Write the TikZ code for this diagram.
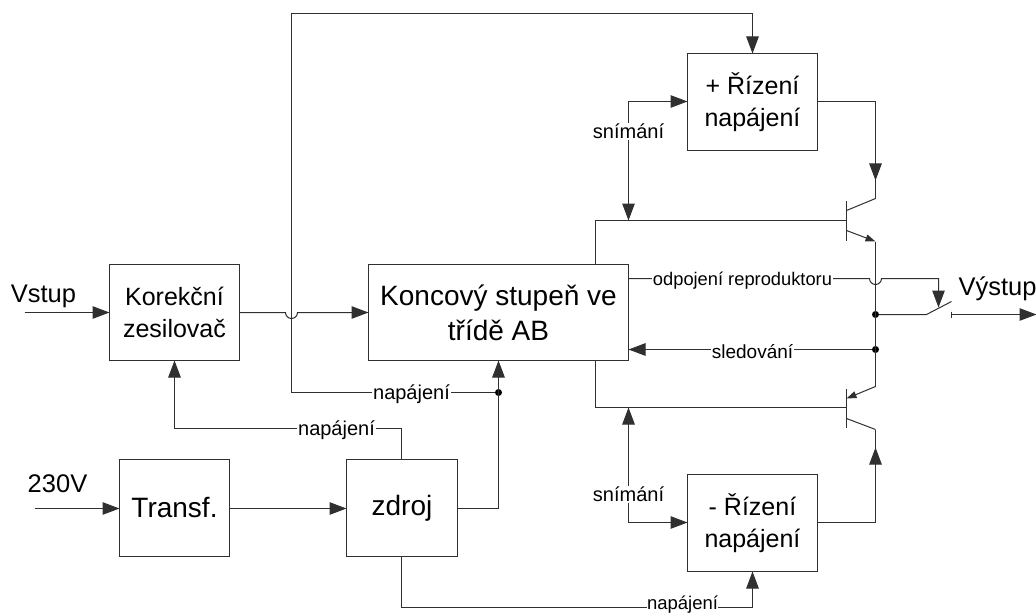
\documentclass[tikz,border=0pt]{standalone}
\usepackage{fontspec}
\setmainfont{Liberation Sans}
\usetikzlibrary{arrows.meta}
\definecolor{wire}{HTML}{303030}
\tikzset{
  x=1pt,y=-1pt,
  blockbox/.style={draw=wire,line width=1pt,fill=white,inner sep=0pt,outer sep=0pt,align=center,font=\fontsize{25}{32}\selectfont},
  tag/.style={fill=white,inner sep=1pt,yshift=-2pt,font=\fontsize{20}{24}\selectfont},
  title/.style={inner sep=0pt,font=\fontsize{25.5}{30}\selectfont},
  wireline/.style={draw=wire,line width=1pt},
  arrowline/.style={wireline,-{Triangle[length=17pt,width=12.5pt]}},
  smallarrow/.style={wireline,-{Triangle[length=10pt,width=7pt]}},
  joint/.style={circle,fill=black,inner sep=0pt,minimum size=7pt}
}
\begin{document}
\begin{tikzpicture}
\useasboundingbox (-0.5,-0.5) rectangle (1035.5,614.5);
% blocks
\node[blockbox,minimum width=130,minimum height=96] (kor) at (174,312) {Korekční\\zesilovač};
\node[blockbox,minimum width=260,minimum height=96,font=\fontsize{28}{35}\selectfont] (kon) at (498,312) {Koncový stupeň ve\\třídě AB};
\node[blockbox,minimum width=130,minimum height=97] (plus) at (752,101.5) {+ Řízení\\napájení};
\node[blockbox,minimum width=130,minimum height=97] (minus) at (752,522.5) {- Řízení\\napájení};
\node[blockbox,minimum width=110,minimum height=97,font=\fontsize{28}{34}\selectfont] (tr) at (174,507.5) {Transf.};
\node[blockbox,minimum width=111,minimum height=97,font=\fontsize{28}{34}\selectfont] (zd) at (401.5,507.5) {zdroj};
% free ends and bends
\coordinate (vin) at (24,312);
\coordinate (acin) at (34,508);
\coordinate (vout) at (1036,314);
\coordinate (outT) at (951,314);
\coordinate (swL) at (926,314);
\coordinate (swR) at (951,301);
\coordinate (rail) at (628,220);
\coordinate (railB) at (628,407);
\coordinate (bU) at (846,220);
\coordinate (bL) at (846,407);
\coordinate (cU) at (875,198);
\coordinate (eU) at (875,241);
\coordinate (eL) at (875,386);
\coordinate (cL) at (875,429);
\node[joint] (jn) at (498,392) {};
\node[joint] (js) at (875,314) {};
\node[joint] (jf) at (875,349) {};
% texts
\node[title] (tv) at (43,296) {Vstup};
\node[title] (ta) at (57,483) {230V};
\node[title] (to) at (997,288) {Výstup};
% simple arrows
\draw[arrowline] (vin) -- (kor.west);
\draw[arrowline] (acin) -- (tr.west |- acin);
\draw[arrowline] (tr.east |- acin) -- (zd.west |- acin);
% amp to output stage, hopping over the feed
\draw[arrowline] (kor.east) -- (285,312) arc[start angle=180,end angle=0,radius=6] -- (kon.west);
% top feed
\coordinate (fL) at (291,392);
\draw[arrowline] (jn) -- (fL) -- (291,13) -- (752,13) -- (plus.north);
\node[tag] at (411,392) {napájení};
% supply
\draw[arrowline] (zd.east |- acin) -- (498,508) -- (kon.south);
\draw[arrowline] (zd.north -| 401,0) -- (401,428) -- (174,428) -- (kor.south);
\node[tag] at (336,428) {napájení};
\draw[arrowline] (zd.south -| 401,0) -- (401,607) -- (752,607) -- (minus.south);
\node[tag,yshift=2pt,inner sep=0pt,font=\fontsize{18.5}{22}\selectfont] at (682,604.5) {napájení};
% rails
\draw[wireline] (kon.north -| 595,0) -- (595,220) -- (bU);
\draw[wireline] (kon.south -| 595,0) -- (595,407) -- (bL);
\draw[arrowline] (628,101) -- (plus.west |- 0,101);
\draw[arrowline] (628,101) -- (rail);
\node[tag] at (628,129) {snímání};
\draw[arrowline] (628,522) -- (minus.west |- 0,522);
\draw[arrowline] (628,522) -- (railB);
\node[tag] at (628,492) {snímání};
% transistors
\draw[wireline] (846,200) -- (846,240);
\draw[wireline] (846,388) -- (846,427);
\draw[wireline] (846,210) -- (cU);
\draw[smallarrow] (846,230) -- (eU);
\draw[smallarrow] (eL) -- (846,398);
\draw[wireline] (846,418) -- (cL);
\draw[arrowline] (plus.east |- 0,101) -- (875,101) -- (875,180);
\draw[wireline] (875,175) -- (cU);
\draw[arrowline] (minus.east |- 0,522) -- (875,522) -- (875,447);
\draw[wireline] (875,450) -- (cL);
\draw[wireline] (eU) -- (eL);
% speaker disconnect and monitoring
\draw[arrowline] (kon.east |- 0,278) -- (869,278) arc[start angle=180,end angle=0,radius=6] -- (938,278) -- (938,307);
\node[tag,font=\fontsize{18.3}{22}\selectfont] at (742,278) {odpojení reproduktoru};
\draw[arrowline] (jf) -- (kon.east |- jf);
\node[tag,font=\fontsize{19}{22}\selectfont] at (752,349) {sledování};
% switch
\draw[wireline] (js) -- (swL) -- (swR);
\draw[wireline] (951,311) -- (951,317);
\draw[arrowline] (outT) -- (vout);
\end{tikzpicture}
\end{document}
